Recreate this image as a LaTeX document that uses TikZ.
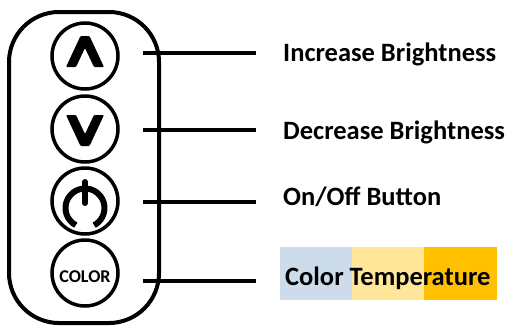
\documentclass[tikz,border=0pt]{standalone}
\usepackage{fontspec}
\setmainfont{Carlito}
\definecolor{coolblue}{RGB}{204,220,234}
\definecolor{warmyellow}{RGB}{255,230,153}
\definecolor{hotorange}{RGB}{255,192,0}
\begin{document}
\begin{tikzpicture}[x=1pt,y=-1pt,
        btn/.style={draw,circle,line width=3.5pt,minimum size=66pt,inner sep=0pt},
        wire/.style={line width=4pt},
        desc/.style={anchor=base west,inner sep=0pt,font=\fontsize{26.5}{30}\selectfont\bfseries}]
        \useasboundingbox (0,0) rectangle (509,327);
        % remote body
        \draw[line width=4pt,rounded corners=50pt] (9,12) rectangle (159,323);

        % buttons
        \node[btn] (up) at (85,56) {};
        \node[btn] (down) at (85,129) {};
        \node[btn] (power) at (85,201) {};
        \node[btn] (color) at (85,273) {};

        \fill[shift={(85,52)},rounded corners=1pt] (-19,15) -- (-4.5,-16) -- (4.5,-16) -- (19,15) -- (9,15) -- (0,-4) -- (-9,15) -- cycle;
        \fill[shift={(85,130)},rounded corners=1pt] (-19,-15) -- (-4.5,16) -- (4.5,16) -- (19,-15) -- (9,-15) -- (0,4) -- (-9,-15) -- cycle;
        \draw[line width=6pt,shift={(85,208)}] (118:19.5) arc[start angle=118,end angle=422,radius=19.5];
        \draw[line width=6pt,line cap=round] (85,182) -- (85,203);
        \node[font=\fontsize{18}{20}\selectfont\bfseries] (colortxt) at (85,277) {COLOR};

        % leader lines
        \coordinate (upA) at (143,53);
        \coordinate (upB) at (256,53);
        \coordinate (downA) at (143,130);
        \coordinate (downB) at (256,130);
        \coordinate (powerA) at (143,202);
        \coordinate (powerB) at (256,202);
        \coordinate (colorA) at (143,281);
        \coordinate (colorB) at (256,281);
        \draw[wire] (upA) -- (upB);
        \draw[wire] (downA) -- (downB);
        \draw[wire] (powerA) -- (powerB);
        \draw[wire] (colorA) -- (colorB);

        % colour band
        \fill[coolblue] (280,247) rectangle (352,300);
        \fill[warmyellow] (352,247) rectangle (424,300);
        \fill[hotorange] (424,247) rectangle (497,300);

        % texts
        \node[desc] (uptxt) at (283,61) {Increase Brightness};
        \node[desc] (downtxt) at (283,139) {Decrease Brightness};
        \node[desc] (powertxt) at (283,205) {On/Off Button};
        \node[desc] (tempTxt) at (285,285) {Color Temperature};
\end{tikzpicture}
\end{document}
